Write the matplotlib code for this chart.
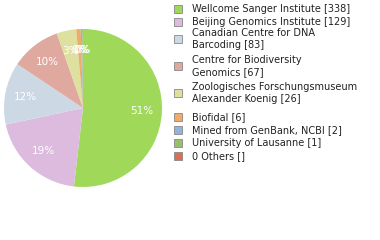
import matplotlib
matplotlib.use("Agg")
import matplotlib.pyplot as plt
from matplotlib.patches import Rectangle

labels = [
    "Wellcome Sanger Institute",
    "Beijing Genomics Institute",
    "Canadian Centre for DNA\nBarcoding",
    "Centre for Biodiversity\nGenomics",
    "Zoologisches Forschungsmuseum\nAlexander Koenig",
    "Biofidal",
    "Mined from GenBank, NCBI",
    "University of Lausanne",
    "0 Others",
]
counts = [338, 129, 83, 67, 26, 6, 2, 1, None]
colors = ["#a0d95a", "#dcbbdf", "#ccd8e4", "#e0a99f", "#dde09f",
          "#f0ab6a", "#94b3dc", "#98c06b", "#dc6e55"]

W, H = 380, 240
fig = plt.figure(figsize=(W / 100, H / 100), dpi=100)

# pie
cx, cy, r = 83, 108, 79
ax = fig.add_axes([(cx - r) / W, 1 - (cy + r) / H, 2 * r / W, 2 * r / H])
vals = [c for c in counts if c]
total = sum(vals)
wedges, _ = ax.pie(vals, colors=colors[:len(vals)], startangle=90, counterclock=False,
                   wedgeprops=dict(linewidth=0))
ax.set_xlim(-1, 1)
ax.set_ylim(-1, 1)
ax.set_aspect("equal")
import numpy as np
ang = 90.0
for v in vals:
    span = 360.0 * v / total
    mid = np.deg2rad(ang - span / 2)
    ang -= span
    pct = int(100 * v / total)
    rr = 0.74
    ax.text(rr * np.cos(mid), rr * np.sin(mid), f"{pct}%", ha="center", va="center",
            color="white", fontsize=7.5)

# legend
rows = [9, 22, 39, 66, 93, 117, 130, 143, 156]
for lab, c, col, y in zip(labels, counts, colors, rows):
    fig.patches.append(Rectangle((174 / W, 1 - (y + 4) / H), 8 / W, 8 / H,
                                 transform=fig.transFigure, facecolor=col,
                                 edgecolor="#888888", linewidth=0.6))
    txt = f"{lab} [{c if c is not None else ''}]"
    fig.text(192 / W, 1 - y / H, txt, ha="left", va="center", fontsize=7,
             color="#222222", linespacing=1.25)

fig.savefig("out.png", dpi=100)
